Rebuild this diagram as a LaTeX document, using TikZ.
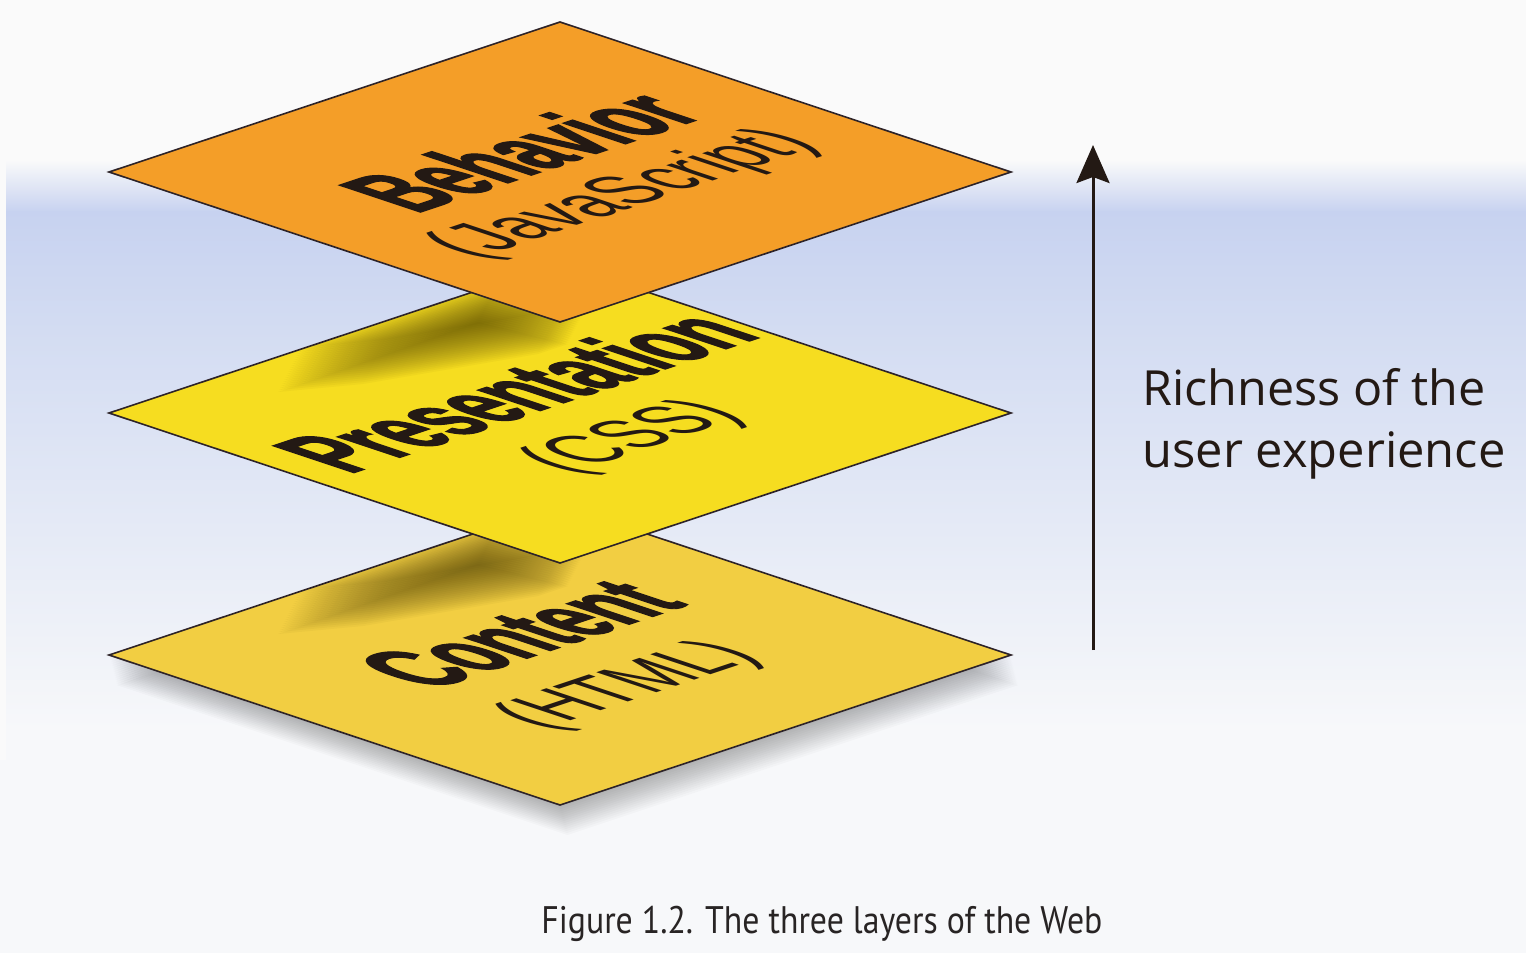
\documentclass[tikz,border=0pt]{standalone}
\usepackage{fontspec}
\usepackage{graphicx}
\usetikzlibrary{arrows.meta}
\setmainfont{Liberation Sans}
\newfontfamily\labfont[FakeStretch=0.58, BoldFeatures={FakeBold=1.6}]{Liberation Sans}
\newfontfamily\lightfont[FakeStretch=0.74]{Liberation Sans}
\newfontfamily\rightfont{Open Sans}
\newfontfamily\capfont[FakeStretch=0.88]{PT Sans}
\definecolor{behav}{RGB}{244,158,40}
\definecolor{pres}{RGB}{246,221,32}
\definecolor{cont}{RGB}{242,206,66}
\definecolor{edgecol}{RGB}{45,35,40}
\definecolor{ink}{RGB}{35,25,20}
\definecolor{bgw}{RGB}{250,250,250}
\definecolor{blueA}{RGB}{199,210,240}
\definecolor{blueB}{RGB}{211,220,242}
\definecolor{bgend}{RGB}{247,248,250}
\definecolor{shadowcol}{RGB}{50,40,0}
\definecolor{capink}{RGB}{40,36,36}
\tikzset{
  layer/.style={draw=edgecol, line width=0.8pt, line join=miter},
  boldlab/.style={transform shape, anchor=base, inner sep=0pt, text=ink,
    font=\labfont\bfseries\fontsize{62}{62}\selectfont},
  lightlab/.style={transform shape, anchor=base, inner sep=0pt, text=ink,
    font=\lightfont\fontsize{46}{46}\selectfont},
  blurlayer/.style={shadowcol, fill opacity=0.036},
  dropshadow/.style={black, fill opacity=0.018},
  arrowline/.style={draw=ink, line width=1.5pt, -{Stealth[length=19pt,width=16.5pt,inset=3pt]}},
  rtext/.style={anchor=base west, inner sep=0pt, text=ink, font=\rightfont\fontsize{24}{24}\selectfont},
  captext/.style={anchor=base west, inner sep=0pt, text=capink, font=\capfont\fontsize{17}{17}\selectfont}
}
\begin{document}
\begin{tikzpicture}[x=0.5pt,y=-0.5pt]
\useasboundingbox (0,0) rectangle (1526,953);
% background
\fill[bgw] (0,0) rectangle (1526,160);
\shade[top color=bgw, bottom color=blueA] (0,160) rectangle (1526,212);
\shade[top color=blueA, bottom color=blueB] (0,211) rectangle (1526,330);
\shade[top color=blueB, bottom color=bgend] (0,329) rectangle (1526,730);
\fill[bgend] (0,729) rectangle (1526,953);
\fill[bgw] (0,150) rectangle (6,760);

% corner coordinates
\coordinate (bT) at (560,22);  \coordinate (bR) at (1011,172);
\coordinate (bB) at (560,322); \coordinate (bL) at (109,172);
\coordinate (pT) at (560,263); \coordinate (pR) at (1011,413);
\coordinate (pB) at (560,563); \coordinate (pL) at (109,413);
\coordinate (cT) at (560,505); \coordinate (cR) at (1011,655);
\coordinate (cB) at (560,805); \coordinate (cL) at (109,655);

% drop shadow under Content
\foreach \d in {2,4,...,30} {
  \fill[dropshadow, shift={(0.25*\d,\d)}] (560,505) -- (1011,655) -- (560,805) -- (109,655) -- cycle;
}

% Content layer
\fill[cont] (cT) -- (cR) -- (cB) -- (cL) -- cycle;
\begin{scope}
  \clip (cT) -- (cR) -- (cB) -- (cL) -- cycle;
  \foreach \d in {0,2,...,44} {
    \fill[blurlayer, shift={(-0.5*\d,\d)}] (300,590) -- (500,520) -- (590,542) -- (560,552) -- (385,582) -- cycle;
  }
\end{scope}
\draw[layer] (cT) -- (cR) -- (cB) -- (cL) -- cycle;
\begin{scope}[shift={(560,655)}, cm={0.949,0.316,-0.949,0.316,(0,0)}]
  \node[boldlab] (contentlab) at (6pt,6pt) {Content};
  \node[lightlab] (htmllab) at (-6pt,-55pt) {(HTML)};
\end{scope}

% Presentation layer
\fill[pres] (pT) -- (pR) -- (pB) -- (pL) -- cycle;
\begin{scope}
  \clip (pT) -- (pR) -- (pB) -- (pL) -- cycle;
  \foreach \d in {0,2,...,44} {
    \fill[blurlayer, shift={(-0.5*\d,\d)}] (300,348) -- (500,278) -- (590,300) -- (560,310) -- (385,340) -- cycle;
  }
\end{scope}
\draw[layer] (pT) -- (pR) -- (pB) -- (pL) -- cycle;
\begin{scope}[shift={(560,413)}, cm={0.949,0.316,-0.949,0.316,(0,0)}]
  \node[boldlab] (preslab) at (5pt,7pt) {Presentation};
  \node[lightlab] (csslab) at (0pt,-51pt) {(CSS)};
\end{scope}

% Behavior layer
\filldraw[layer, fill=behav] (bT) -- (bR) -- (bB) -- (bL) -- cycle;
\begin{scope}[shift={(560,172)}, cm={0.949,0.316,-0.949,0.316,(0,0)}]
  \node[boldlab] (behavlab) at (6pt,5pt) {Behavior};
  \node[lightlab] (jslab) at (-1pt,-47pt) {(JavaScript)};
\end{scope}

% arrow
\coordinate (arrB) at (1093,650);
\coordinate (arrT) at (1093,145);
\draw[arrowline] (arrB) -- (arrT);

% right text
\node[rtext] (rich1) at (1142,405) {\resizebox{171.5pt}{!}{Richness of the}};
\node[rtext] (rich2) at (1142,467) {\resizebox{181.5pt}{!}{user experience}};

% caption
\node[captext] (caption) at (541,933) {\resizebox{280.5pt}{!}{Figure 1.2. The three layers of the Web}};
\end{tikzpicture}
\end{document}
